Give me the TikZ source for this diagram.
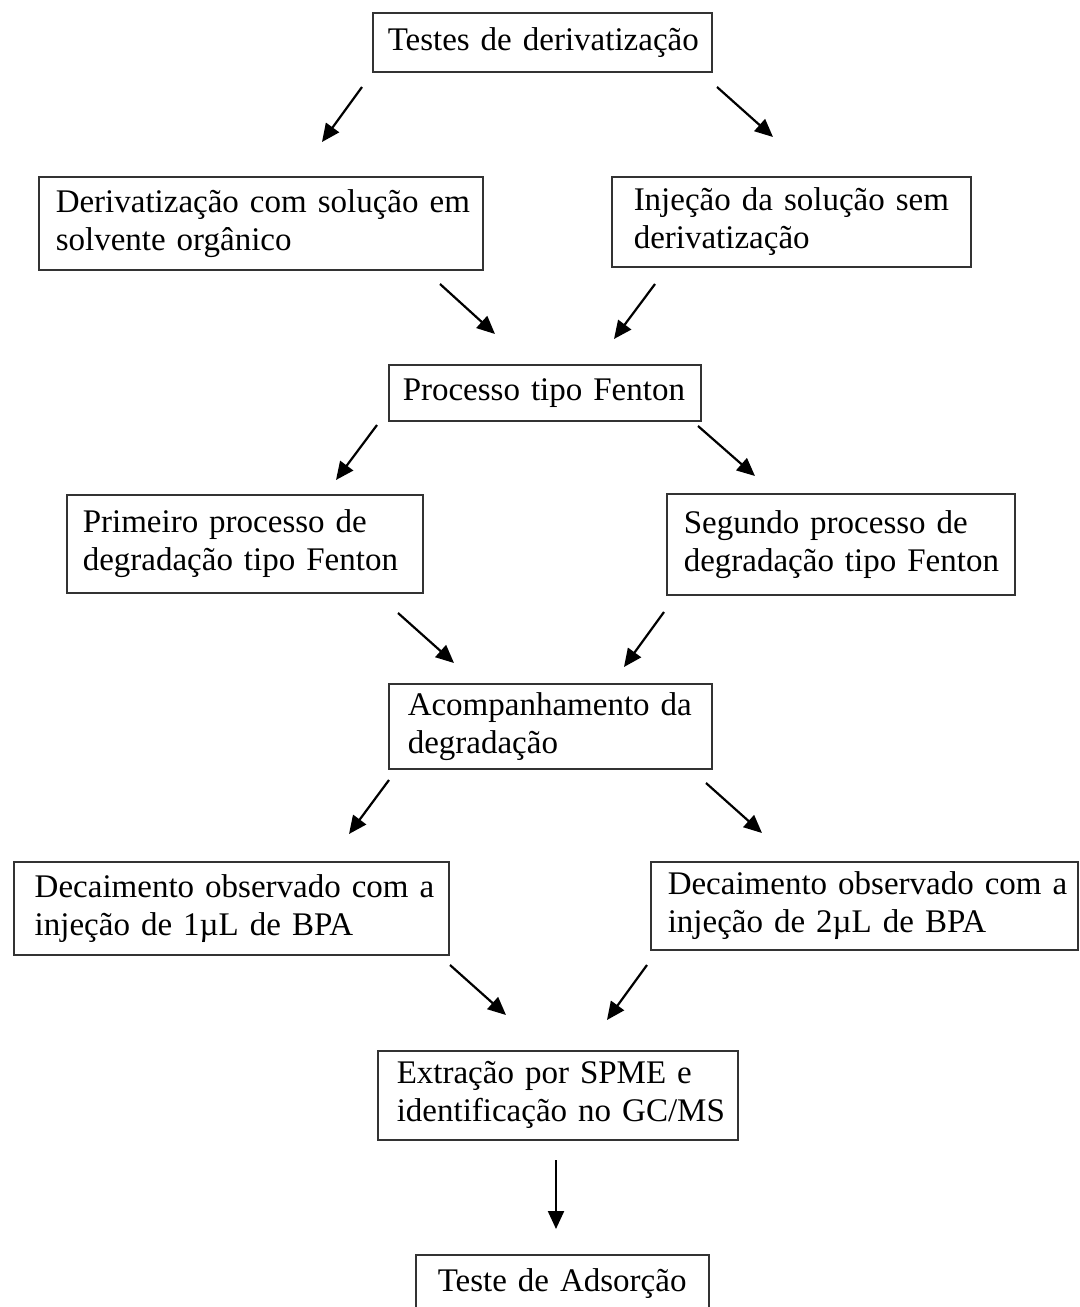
\documentclass[tikz,border=0pt]{standalone}
\usepackage{fontspec}
\setmainfont{Liberation Serif}
\usetikzlibrary{arrows.meta}
\begin{document}
\begin{tikzpicture}[x=0.5pt,y=-0.5pt,
  box/.style={draw=black!80, line width=0.75pt, anchor=north west, inner ysep=0pt, align=left,
    font=\fontsize{16.5}{19}\selectfont},
  arr/.style={line width=1.1pt, -{Triangle[length=9pt,width=8pt]}}]
\useasboundingbox (0,0) rectangle (1080,1307);
\fill[white] (0,0) rectangle (1080,1307);

\node[box, inner xsep=7.5pt, text width=154.5pt, minimum height=29.5pt] (n1) at (372,12)
  {\mbox{Testes de derivatização}};
\node[box, inner xsep=8.5pt, text width=205pt, minimum height=46.5pt] (n2) at (38,176)
  {\mbox{Derivatização com solução em}\\\mbox{solvente orgânico}};
\node[box, inner xsep=11pt, text width=157.5pt, minimum height=45pt] (n3) at (611,176)
  {\mbox{Injeção da solução sem}\\\mbox{derivatização}};
\node[box, inner xsep=7pt, text width=142pt, minimum height=28pt] (n4) at (388,364)
  {\mbox{Processo tipo Fenton}};
\node[box, inner xsep=8pt, text width=162pt, minimum height=49pt] (n5) at (66,494)
  {\mbox{Primeiro processo de}\\\mbox{degradação tipo Fenton}};
\node[box, inner xsep=8.5pt, text width=157pt, minimum height=50.5pt] (n6) at (666,493)
  {\mbox{Segundo processo de}\\\mbox{degradação tipo Fenton}};
\node[box, inner xsep=9.5pt, text width=142.5pt, minimum height=42.5pt] (n7) at (388,683)
  {\mbox{Acompanhamento da}\\\mbox{degradação}};
\node[box, inner xsep=10.5pt, text width=196.5pt, minimum height=46.5pt] (n8) at (13,861)
  {\mbox{Decaimento observado com a}\\\mbox{injeção de 1µL de BPA}};
\node[box, inner xsep=8.5pt, text width=196.5pt, minimum height=44pt] (n9) at (650,861)
  {\mbox{Decaimento observado com a}\\\mbox{injeção de 2µL de BPA}};
\node[box, inner xsep=9.5pt, text width=161pt, minimum height=44.5pt] (n10) at (377,1050)
  {\mbox{Extração por SPME e}\\\mbox{identificação no GC/MS}};
\node[box, inner xsep=11pt, text width=124.5pt, minimum height=29pt] (n11) at (415,1254)
  {\mbox{Teste de Adsorção}};

\coordinate (a1s) at (362,87);  \coordinate (a1e) at (322,142);
\coordinate (a2s) at (717,87);  \coordinate (a2e) at (773,137);
\coordinate (a3s) at (440,284); \coordinate (a3e) at (495,334);
\coordinate (a4s) at (655,284); \coordinate (a4e) at (614,339);
\coordinate (a5s) at (377,425); \coordinate (a5e) at (336,480);
\coordinate (a6s) at (698,426); \coordinate (a6e) at (755,476);
\coordinate (a7s) at (398,613); \coordinate (a7e) at (454,663);
\coordinate (a8s) at (664,612); \coordinate (a8e) at (624,667);
\coordinate (a9s) at (389,780); \coordinate (a9e) at (349,834);
\coordinate (a10s) at (706,783); \coordinate (a10e) at (762,833);
\coordinate (a11s) at (450,965); \coordinate (a11e) at (506,1015);
\coordinate (a12s) at (647,965); \coordinate (a12e) at (607,1020);
\coordinate (a13s) at (556,1160); \coordinate (a13e) at (556,1229);

\foreach \i in {1,...,13} {\draw[arr] (a\i s) -- (a\i e);}
\end{tikzpicture}
\end{document}
